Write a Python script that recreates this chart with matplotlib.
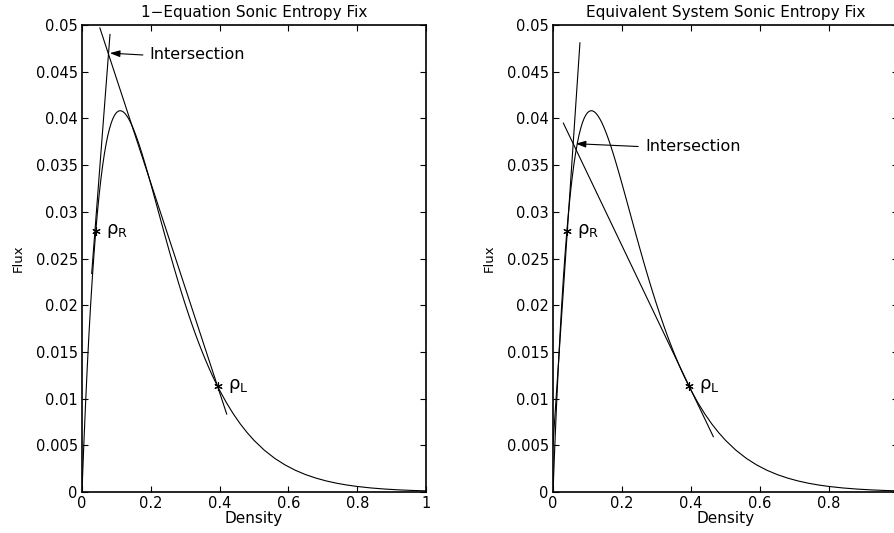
import matplotlib
matplotlib.use("Agg")
import matplotlib.pyplot as plt

plt.rcParams["font.family"] = ["DejaVu Sans"]
plt.rcParams["mathtext.fontset"] = "dejavusans"

# flux curve
density = [0.0, 0.005, 0.010, 0.015, 0.020, 0.025, 0.030, 0.035, 0.040, 0.045,
           0.050, 0.055, 0.060, 0.065, 0.070, 0.075, 0.080, 0.085, 0.090,
           0.095, 0.100, 0.105, 0.110, 0.115, 0.120, 0.125, 0.130, 0.135,
           0.140, 0.145, 0.150, 0.155, 0.160, 0.165, 0.170, 0.175, 0.180,
           0.185, 0.190, 0.195, 0.200, 0.21, 0.22, 0.23, 0.24, 0.25, 0.26,
           0.27, 0.28, 0.29, 0.30, 0.31, 0.32, 0.33, 0.34, 0.35, 0.36, 0.37,
           0.38, 0.39, 0.40, 0.42, 0.44, 0.46, 0.48, 0.50, 0.53, 0.56, 0.59,
           0.62, 0.65, 0.68, 0.71, 0.74, 0.77, 0.80, 0.84, 0.88, 0.92, 0.96,
           1.00]
flux = [0.0, 0.004780, 0.009139, 0.013104, 0.016702, 0.019958, 0.022895,
        0.025535, 0.027897, 0.030002, 0.031867, 0.033510, 0.034946, 0.036191,
        0.037258, 0.038161, 0.038912, 0.039523, 0.040005, 0.040367, 0.040620,
        0.040773, 0.040833, 0.040809, 0.040707, 0.040536, 0.040301, 0.040007,
        0.039662, 0.039269, 0.038834, 0.038361, 0.037854, 0.037318, 0.036755,
        0.036170, 0.035565, 0.034942, 0.034306, 0.033658, 0.033000, 0.031666,
        0.030316, 0.028964, 0.027620, 0.026293, 0.024989, 0.023715, 0.022476,
        0.021273, 0.020111, 0.018992, 0.017916, 0.016884, 0.015898, 0.014956,
        0.014058, 0.013199, 0.012390, 0.011623, 0.010894, 0.009554, 0.008359,
        0.007299, 0.006361, 0.005534, 0.004478, 0.003611, 0.002905, 0.002330,
        0.001864, 0.001489, 0.001186, 0.000942, 0.000748, 0.000593, 0.000434,
        0.000318, 0.000231, 0.000168, 0.000122]

# left and right states
rho_R = 0.040
flux_R = 0.0280
rho_L = 0.394
flux_L = 0.01135

# 1-equation fix: line segments (x pair, y pair)
eq1_steep_x = [0.0282, 0.0814]
eq1_steep_y = [0.0234, 0.0490]
eq1_chord_x = [0.052, 0.4206]
eq1_chord_y = [0.0497, 0.00835]
eq1_cross = (0.081, 0.0470)
eq1_tail = (0.177, 0.0468)

# equivalent system fix
sys_steep_x = [0.0, 0.078]
sys_steep_y = [0.0051, 0.0481]
sys_tan_x = [0.030, 0.4647]
sys_tan_y = [0.0395, 0.00592]
sys_cross = (0.0658, 0.0373)
sys_tail = (0.247, 0.0370)

titles = ["1\u2212Equation Sonic Entropy Fix", "Equivalent System Sonic Entropy Fix"]
xticks = [0, 0.2, 0.4, 0.6, 0.8, 1]
yticks = [0, 0.005, 0.01, 0.015, 0.02, 0.025, 0.03, 0.035, 0.04, 0.045, 0.05]


def setup_axes(ax, title):
    ax.set_xlim(0, 1)
    ax.set_ylim(0, 0.05)
    ax.set_xticks(xticks)
    ax.set_xticklabels(["%g" % t for t in xticks])
    ax.set_yticks(yticks)
    ax.set_yticklabels(["%g" % t for t in yticks])
    ax.tick_params(direction="in", top=True, right=True, length=4, width=0.8,
                   labelsize=10.5, pad=3)
    for s in ax.spines.values():
        s.set_linewidth(1.2)
    ax.set_title(title, fontsize=11, pad=6)
    ax.set_xlabel("Density", fontsize=11, labelpad=0)
    ax.set_ylabel("Flux", fontsize=9.5, labelpad=8)


def draw_states(ax):
    ax.plot(density, flux, color="black", lw=0.8)
    ax.plot([rho_R, rho_L], [flux_R, flux_L], linestyle="none", marker=(6, 2, 0),
            markersize=6, color="black", mew=0.8)
    ax.text(rho_R + 0.03, flux_R, "\u03c1$_\\mathregular{R}$", fontsize=13, va="center")
    ax.text(rho_L + 0.03, flux_L, "\u03c1$_\\mathregular{L}$", fontsize=13, va="center")


def draw_arrow(ax, head, tail):
    ax.annotate("", xy=head, xytext=tail,
                arrowprops=dict(arrowstyle="-|>,head_length=0.6,head_width=0.2",
                                color="black", lw=0.8, shrinkA=0, shrinkB=0))
    ax.text(tail[0] + 0.02, tail[1], "Intersection", fontsize=11.5, va="center")


fig = plt.figure(figsize=(8.95, 5.33), dpi=100)
ax1 = fig.add_axes([0.0916, 0.0769, 0.3844, 0.876])
ax2 = fig.add_axes([0.6179, 0.0769, 0.3855, 0.876])

setup_axes(ax1, titles[0])
draw_states(ax1)
ax1.plot(eq1_steep_x, eq1_steep_y, color="black", lw=0.8)
ax1.plot(eq1_chord_x, eq1_chord_y, color="black", lw=0.8)
draw_arrow(ax1, eq1_cross, eq1_tail)

setup_axes(ax2, titles[1])
draw_states(ax2)
ax2.plot(sys_steep_x, sys_steep_y, color="black", lw=0.8)
ax2.plot(sys_tan_x, sys_tan_y, color="black", lw=0.8)
draw_arrow(ax2, sys_cross, sys_tail)

fig.savefig("out.png", dpi=100)
